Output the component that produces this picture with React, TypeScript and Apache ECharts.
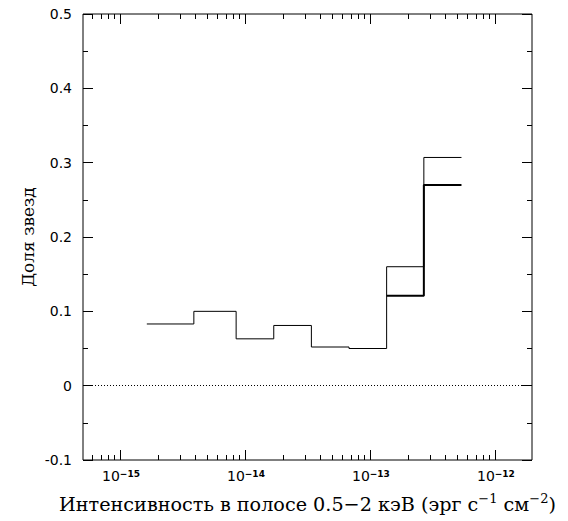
import React, { useEffect, useRef } from "react";
import * as echarts from "echarts";

// Bin edges (erg s^-1 cm^-2) and star fractions
const allEdges = [1.64e-15, 3.9e-15, 8.5e-15, 1.7e-14, 3.4e-14, 6.8e-14, 1.36e-13, 2.7e-13, 5.4e-13];
const allValues = [0.083, 0.1, 0.063, 0.081, 0.052, 0.05, 0.16, 0.307];
const brightEdges = [1.36e-13, 2.7e-13, 5.4e-13];
const brightValues = [0.121, 0.27];

const xMin = 5.06e-16;
const xMax = 1.98e-12;
const yMin = -0.1;
const yMax = 0.5;
const decades = [-16, -15, -14, -13, -12];
const multipliers = [1, 2, 3, 4, 5, 6, 7, 8, 9];
const xLabelExponents = [-15, -14, -13, -12];
const yLabelValues = [-0.1, 0, 0.1, 0.2, 0.3, 0.4, 0.5];
const yLabelTexts = ["-0.1", "0", "0.1", "0.2", "0.3", "0.4", "0.5"];

function stepData(edges: number[], values: number[]) {
  const pts: number[][] = edges.slice(0, values.length).map((e, i) => [e, values[i]]);
  pts.push([edges[edges.length - 1], values[values.length - 1]]);
  return pts;
}

function tickData() {
  const out: number[][] = [];
  decades.forEach((d) => {
    multipliers.forEach((m) => {
      const v = m * Math.pow(10, d);
      if (v >= xMin && v <= xMax) out.push([v, m === 1 ? 1 : 0]);
    });
  });
  return out;
}

export default function App() {
  const ref = useRef<HTMLDivElement>(null);
  useEffect(() => {
    document.body.style.margin = "0";
    const chart = echarts.init(ref.current!, null, { renderer: "svg" });
    const yTickCommon = {
      type: "value" as const,
      min: yMin,
      max: yMax,
      interval: 0.1,
      axisLine: { show: false },
      splitLine: { show: false },
      axisLabel: { show: false },
      axisTick: { show: true, inside: true, length: 10, lineStyle: { color: "#000", width: 1 } },
      minorTick: { show: true, splitNumber: 2, length: 5, lineStyle: { color: "#000", width: 1 } },
    };
    chart.setOption({
      animation: false,
      backgroundColor: "#fff",
      grid: {
        left: 83,
        right: 36,
        top: 14,
        bottom: 58,
        show: true,
        borderColor: "#000",
        borderWidth: 1,
        backgroundColor: "transparent",
      },
      xAxis: {
        type: "log",
        logBase: 10,
        min: xMin,
        max: xMax,
        axisLine: { show: false },
        axisTick: { show: false },
        splitLine: { show: false },
        axisLabel: { show: false },
        name: "Интенсивность в полосе 0.5\u22122 кэВ (эрг с{s|\u22121} см{s|\u22122})",
        nameLocation: "middle",
        nameGap: 32,
        nameTextStyle: {
          fontFamily: "DejaVu Serif",
          fontSize: 19.2,
          color: "#000",
          lineHeight: 24,
          rich: {
            s: { fontFamily: "DejaVu Serif", fontSize: 13, color: "#000", verticalAlign: "top", lineHeight: 14 },
          },
        },
      },
      yAxis: [
        {
          ...yTickCommon,
          position: "left",
          name: "Доля звезд",
          nameLocation: "middle",
          nameGap: 47,
          nameTextStyle: { fontFamily: "DejaVu Serif", fontSize: 17, color: "#000" },
        },
        {
          ...yTickCommon,
          position: "right",
        },
      ],
      series: [
        {
          type: "custom",
          silent: true,
          clip: false,
          data: tickData(),
          encode: { x: 0 },
          renderItem: (params: any, api: any) => {
            const v = api.value(0);
            const len = api.value(1) ? 10 : 5;
            const pb = api.coord([v, yMin]);
            const pt = api.coord([v, yMax]);
            const x = Math.round(pb[0]) + 0.5;
            return {
              type: "group",
              children: [
                { type: "line", shape: { x1: x, y1: pb[1], x2: x, y2: pb[1] - len }, style: { stroke: "#000", lineWidth: 1 } },
                { type: "line", shape: { x1: x, y1: pt[1], x2: x, y2: pt[1] + len }, style: { stroke: "#000", lineWidth: 1 } },
              ],
            };
          },
        },
        {
          type: "custom",
          silent: true,
          clip: false,
          data: xLabelExponents.map((e) => [Math.pow(10, e), e]),
          encode: { x: 0 },
          renderItem: (params: any, api: any) => {
            const v = api.value(0);
            const e = Math.round(api.value(1));
            const p = api.coord([v, yMin]);
            return {
              type: "text",
              x: p[0] + 1,
              y: p[1] + 9,
              style: {
                text: "{b|10}{e|" + (e < 0 ? "\u2212" : "") + Math.abs(e) + "}",
                align: "center",
                verticalAlign: "top",
                rich: {
                  b: { font: "14px 'DejaVu Sans'", fontFamily: "DejaVu Sans", fontSize: 14, fill: "#000", lineHeight: 14 },
                  e: { font: "bold 9px 'DejaVu Sans'", fontFamily: "DejaVu Sans", fontWeight: "bold", fontSize: 9, fill: "#000", verticalAlign: "top", lineHeight: 9 },
                },
              },
            };
          },
        },
        {
          type: "custom",
          silent: true,
          clip: false,
          data: yLabelValues.map((v, i) => [xMin, v, i]),
          encode: { x: 0, y: 1 },
          renderItem: (params: any, api: any) => {
            const p = api.coord([api.value(0), api.value(1)]);
            const i = api.value(2);
            return {
              type: "text",
              x: p[0] - 11,
              y: p[1],
              style: {
                text: yLabelTexts[i],
                align: "right",
                verticalAlign: "middle",
                font: "14px 'DejaVu Sans'",
                fontFamily: "DejaVu Sans",
                fontSize: 14,
                fill: "#000",
              },
            };
          },
        },
        {
          type: "line",
          step: "end",
          data: stepData(allEdges, allValues),
          showSymbol: false,
          symbol: "none",
          lineStyle: { color: "#000", width: 1 },
          markLine: {
            silent: true,
            symbol: "none",
            label: { show: false },
            lineStyle: { color: "#000", width: 1, type: [1, 2] },
            data: [{ yAxis: 0 }],
          },
        },
        {
          type: "line",
          step: "end",
          data: stepData(brightEdges, brightValues),
          showSymbol: false,
          symbol: "none",
          lineStyle: { color: "#000", width: 2 },
        },
      ],
    });
    return () => chart.dispose();
  }, []);
  return <div ref={ref} style={{ width: 568, height: 521 }} />;
}
